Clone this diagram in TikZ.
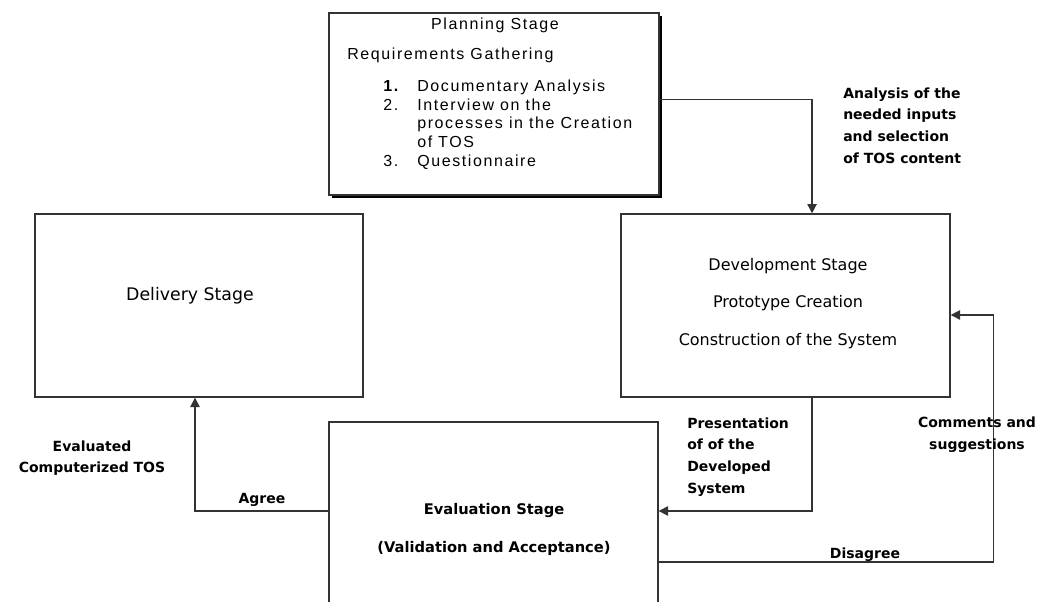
\documentclass[tikz,border=0pt]{standalone}
\usepackage{fontspec}
\usetikzlibrary{arrows.meta,calc,shadows}
\newfontfamily\dvs{DejaVu Sans}
\newfontfamily\lib[LetterSpace=10]{Liberation Sans}
\begin{document}
\begin{tikzpicture}[x=0.75pt,y=-0.75pt,
  stagebox/.style={draw=black!80, fill=white, line width=1pt, inner sep=0pt},
  conn/.style={draw=black!80, line width=1pt, -{Triangle[length=7pt,width=7pt]}},
  lbl/.style={font=\dvs\bfseries\fontsize{10.5}{16.3}\selectfont, inner sep=0pt},
  plantext/.style={font=\lib\fontsize{12}{14.06}\selectfont, inner sep=0pt},
]
\useasboundingbox (0,0) rectangle (1049,601);
\clip (0,0) rectangle (1049,601);

% boxes
\node[stagebox, minimum width=247.5pt, minimum height=136.5pt,
      drop shadow={shadow xshift=2pt, shadow yshift=-2pt, opacity=1, fill=black}] (plan) at (494,104) {};
\node[stagebox, minimum width=246pt, minimum height=137.25pt] (del) at (199,305.5) {};
\node[stagebox, minimum width=246.75pt, minimum height=137.25pt] (dev) at (785.5,305.5) {};
\node[stagebox, minimum width=246.75pt, minimum height=136.5pt] (eval) at (493.5,513) {};

% planning texts
\node[plantext] (plantitle) at (495,25) {Planning Stage};
\node[plantext, anchor=west] (planreq) at (347,55) {Requirements Gathering};
\node[plantext, anchor=west, align=left] (planlist) at (383,124.5) {%
  \makebox[25.5pt][l]{\textbf{1.}}Documentary Analysis\\
  \makebox[25.5pt][l]{2.}Interview on the\\
  \makebox[25.5pt][l]{}processes in the Creation\\
  \makebox[25.5pt][l]{}of TOS\\
  \makebox[25.5pt][l]{3.}Questionnaire};

% other box texts
\node[font=\dvs\fontsize{13}{15}\selectfont, inner sep=0pt] (delt) at (190,296) {Delivery Stage};
\node[font=\dvs\fontsize{12}{28}\selectfont, align=center, inner sep=0pt] (devt) at (788,303.5)
  {Development Stage\\Prototype Creation\\Construction of the System};
\node[font=\dvs\bfseries\fontsize{11}{29}\selectfont, align=center, inner sep=0pt] (evalt) at (494,529.5)
  {Evaluation Stage\\(Validation and Acceptance)};

% connectors
\draw[conn] ([yshift=3.4pt]plan.east) -| ([xshift=19.9pt]dev.north);
\draw[conn] ([xshift=19.9pt]dev.south) |- ([yshift=1.5pt]eval.east);
\draw[conn] ([yshift=1.5pt]eval.west) -| ([xshift=-3pt]del.south);
\draw[conn] ([yshift=-36.75pt]eval.east) -| ([xshift=32.25pt,yshift=-7.1pt]dev.east) -- ([yshift=-7.1pt]dev.east);

% labels
\node[lbl, anchor=west, align=left] (l1) at (843,125.5)
  {Analysis of the\\needed inputs\\and selection\\of TOS content};
\node[lbl, anchor=west, align=left] (l2) at (687,457)
  {Presentation\\of of the\\Developed\\System};
\node[lbl, align=center] (l3) at (977,435) {Comments and\\suggestions};
\node[lbl] (l4) at (865,555) {Disagree};
\node[lbl] (l5) at (262,500) {Agree};
\node[lbl, align=center, font=\dvs\bfseries\fontsize{10.5}{15.75}\selectfont] (l6) at (92,458)
  {Evaluated\\Computerized TOS};
\end{tikzpicture}
\end{document}
